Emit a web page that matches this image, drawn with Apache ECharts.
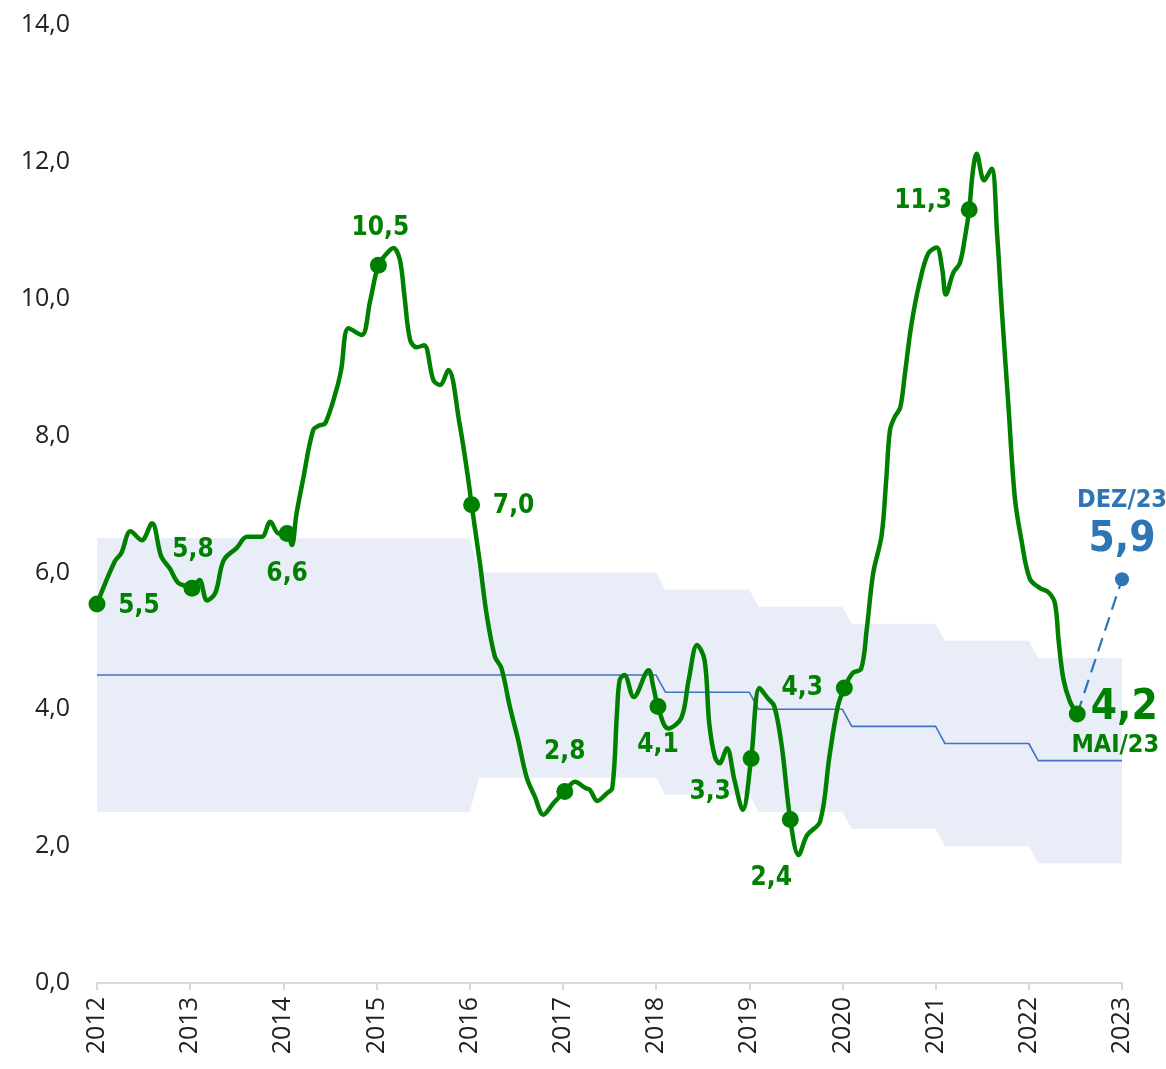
<!DOCTYPE html>
<html>
<head>
<meta charset="utf-8">
<script src="https://cdn.jsdelivr.net/npm/echarts@6/dist/echarts.min.js"></script>
<style>
  html, body { margin: 0; padding: 0; background: #fff; }
  #chart { width: 1166px; height: 1069px; }
</style>
</head>
<body>
<div id="chart"></div>
<script>
// IPCA 12 meses (decimal year, %)
const ipcaX = [
  2012.00, 2012.19, 2012.26, 2012.36, 2012.48, 2012.59, 2012.69, 2012.78, 2012.87, 2012.96,
  2013.02, 2013.10, 2013.18, 2013.27, 2013.36, 2013.50, 2013.61, 2013.70, 2013.77, 2013.86, 2013.95,
  2014.04, 2014.09, 2014.14, 2014.21, 2014.32, 2014.39, 2014.45, 2014.57, 2014.62, 2014.70, 2014.84, 2014.93,
  2015.02, 2015.11, 2015.18, 2015.25, 2015.30, 2015.36, 2015.43, 2015.51, 2015.61, 2015.68, 2015.77, 2015.89, 2015.98,
  2016.02, 2016.11, 2016.18, 2016.27, 2016.34, 2016.43, 2016.52, 2016.61, 2016.70, 2016.79, 2016.90,
  2017.02, 2017.13, 2017.24, 2017.29, 2017.37, 2017.47, 2017.53, 2017.58, 2017.61, 2017.66, 2017.76, 2017.92, 2017.97,
  2018.02, 2018.13, 2018.27, 2018.35, 2018.44, 2018.52, 2018.57, 2018.63, 2018.68, 2018.76, 2018.84, 2018.93,
  2019.02, 2019.11, 2019.20, 2019.27, 2019.35, 2019.44, 2019.53, 2019.62, 2019.76, 2019.86, 2019.95,
  2020.02, 2020.11, 2020.20, 2020.26, 2020.33, 2020.42, 2020.47, 2020.51, 2020.56, 2020.62, 2020.67, 2020.74, 2020.83, 2020.92,
  2021.01, 2021.07, 2021.11, 2021.19, 2021.26, 2021.32, 2021.36, 2021.40, 2021.44, 2021.52, 2021.60, 2021.66, 2021.71, 2021.78, 2021.85, 2021.92,
  2022.01, 2022.12, 2022.21, 2022.28, 2022.32, 2022.37, 2022.44, 2022.52
];
const ipcaY = [
  5.54, 6.16, 6.28, 6.60, 6.47, 6.72, 6.23, 6.06, 5.85, 5.80,
  5.77, 5.89, 5.59, 5.70, 6.18, 6.36, 6.52, 6.52, 6.52, 6.74, 6.57,
  6.57, 6.40, 6.85, 7.35, 8.08, 8.15, 8.18, 8.67, 8.96, 9.57, 9.47, 9.96,
  10.49, 10.66, 10.74, 10.57, 10.03, 9.40, 9.29, 9.32, 8.81, 8.74, 8.96, 8.18, 7.40,
  6.99, 6.13, 5.40, 4.77, 4.60, 4.04, 3.55, 3.01, 2.72, 2.46, 2.63,
  2.80, 2.94, 2.85, 2.82, 2.66, 2.77, 2.85, 3.94, 4.43, 4.50, 4.18, 4.57, 4.33,
  4.04, 3.72, 3.87, 4.43, 4.94, 4.72, 3.80, 3.31, 3.21, 3.43, 2.97, 2.53,
  3.28, 4.31, 4.16, 4.04, 3.45, 2.39, 1.87, 2.16, 2.36, 3.31, 4.04,
  4.31, 4.53, 4.59, 5.16, 5.99, 6.54, 7.36, 8.08, 8.27, 8.41, 8.90, 9.62, 10.25, 10.66,
  10.75, 10.44, 10.06, 10.38, 10.52, 10.94, 11.30, 11.87, 12.12, 11.73, 11.90, 10.94, 9.84, 8.46, 7.09, 6.48,
  5.91, 5.77, 5.71, 5.55, 5.00, 4.45, 4.12, 3.93
];

// highlighted points
const markX = [2012.00, 2013.02, 2014.04, 2015.02, 2016.02, 2017.02, 2018.02, 2019.02, 2019.44, 2020.02, 2021.36, 2022.52];
const markY = [5.54, 5.77, 6.57, 10.49, 6.99, 2.80, 4.04, 3.28, 2.39, 4.31, 11.30, 3.93];
const markText = ['5,5', '5,8', '6,6', '10,5', '7,0', '2,8', '4,1', '3,3', '2,4', '4,3', '11,3', '4,2'];

// meta de inflação: banda e centro
const bandX = [2012, 2016, 2016.1, 2018, 2018.1, 2019, 2019.1, 2020, 2020.1, 2021, 2021.1, 2022, 2022.1, 2023];
const bandLow = [2.5, 2.5, 3.0, 3.0, 2.75, 2.75, 2.5, 2.5, 2.25, 2.25, 2.0, 2.0, 1.75, 1.75];
const bandHigh = [6.5, 6.5, 6.0, 6.0, 5.75, 5.75, 5.5, 5.5, 5.25, 5.25, 5.0, 5.0, 4.75, 4.75];
const bandMid = [4.5, 4.5, 4.5, 4.5, 4.25, 4.25, 4.0, 4.0, 3.75, 3.75, 3.5, 3.5, 3.25, 3.25];

// projeção
const projX = [2022.52, 2023.0];
const projY = [3.93, 5.9];
const projText = ['DEZ/23', '5,9'];
const lastText = 'MAI/23';

const years = [2012, 2023];

const GREEN = '#008000';
const BLUE = '#2E75B6';
const BAND = '#E9EDF7';
const LABEL_FONT = '"DejaVu Sans Condensed", "Liberation Sans Narrow", sans-serif';
const AXIS_FONT = '"Open Sans", Lato, sans-serif';

// label offsets around each highlighted point
const labelOffsets = [
  [42, 2], [1, -38], [0, 41], [2, -37], [42, 2], [0, -39],
  [0, 39], [-41, 34], [-19, 59], [-42, 0], [-46, -9], [42, 0]
];

const chart = echarts.init(document.getElementById('chart'));

const markData = markX.map((x, i) => {
  const item = { value: [x, markY[i]], label: { offset: labelOffsets[i] } };
  if (i === markX.length - 1) {
    item.label = {
      offset: [38, 8],
      formatter: '{a|' + markText[i] + '}\n{b|' + lastText + '}',
      rich: {
        a: { fontFamily: LABEL_FONT, fontWeight: 'bold', fontSize: 42, color: GREEN, lineHeight: 46, align: 'center', padding: [0, 0, 0, 18] },
        b: { fontFamily: LABEL_FONT, fontWeight: 'bold', fontSize: 25, color: GREEN, lineHeight: 28, align: 'center' }
      }
    };
  } else {
    item.label.formatter = markText[i];
  }
  return item;
});

const option = {
  animation: false,
  grid: { left: 97, right: 44, top: 25, bottom: 86, containLabel: false },
  xAxis: {
    type: 'value',
    min: years[0],
    max: years[1],
    interval: 1,
    z: 10,
    splitLine: { show: false },
    axisLine: { lineStyle: { color: '#d9d9d9', width: 2 } },
    axisTick: { show: true, length: 7, lineStyle: { color: '#d9d9d9', width: 2 } },
    axisLabel: {
      rotate: 90,
      margin: 14,
      fontFamily: AXIS_FONT,
      fontSize: 25,
      color: '#222',
      formatter: v => String(v)
    }
  },
  yAxis: {
    type: 'value',
    min: 0,
    max: 14,
    interval: 2,
    splitLine: { show: false },
    axisLine: { show: false },
    axisTick: { show: false },
    axisLabel: {
      margin: 27,
      fontFamily: AXIS_FONT,
      fontSize: 25,
      color: '#222',
      formatter: v => v.toFixed(1).replace('.', ',')
    }
  },
  series: [
    {
      // upper edge of the target band, filled down to the axis
      type: 'line',
      data: bandX.map((x, i) => [x, bandHigh[i]]),
      symbol: 'none',
      lineStyle: { width: 0, color: BAND },
      areaStyle: { color: BAND, opacity: 1, origin: 'start' },
      silent: true,
      z: 1
    },
    {
      // lower edge: white fill below it cuts the band out
      type: 'line',
      data: bandX.map((x, i) => [x, bandLow[i]]),
      symbol: 'none',
      lineStyle: { width: 0, color: '#fff' },
      areaStyle: { color: '#fff', opacity: 1, origin: 'start' },
      silent: true,
      z: 1
    },
    {
      type: 'line',
      data: bandX.map((x, i) => [x, bandMid[i]]),
      symbol: 'none',
      lineStyle: { color: '#4472C4', width: 1.6 },
      silent: true,
      z: 2
    },
    {
      type: 'line',
      data: ipcaX.map((x, i) => [x, ipcaY[i]]),
      symbol: 'none',
      smooth: 0.35,
      lineStyle: { color: GREEN, width: 4.5 },
      z: 3
    },
    {
      type: 'line',
      data: projX.map((x, i) => [x, projY[i]]),
      symbol: 'none',
      lineStyle: { color: BLUE, width: 2.2, type: [14, 8] },
      z: 3
    },
    {
      type: 'scatter',
      data: markData,
      symbol: 'circle',
      symbolSize: 17,
      itemStyle: { color: GREEN, opacity: 1 },
      label: {
        show: true,
        position: 'inside',
        fontFamily: LABEL_FONT,
        fontWeight: 'bold',
        fontSize: 26,
        color: GREEN
      },
      z: 5
    },
    {
      type: 'scatter',
      data: [[projX[1], projY[1]]],
      symbol: 'circle',
      symbolSize: 14,
      itemStyle: { color: BLUE, opacity: 1 },
      label: {
        show: true,
        position: 'top',
        distance: 10,
        formatter: '{a|' + projText[0] + '}\n{b|' + projText[1] + '}',
        rich: {
          a: { fontFamily: LABEL_FONT, fontWeight: 'bold', fontSize: 25, color: BLUE, lineHeight: 36, align: 'center' },
          b: { fontFamily: LABEL_FONT, fontWeight: 'bold', fontSize: 42, color: BLUE, lineHeight: 44, align: 'center' }
        }
      },
      z: 5
    }
  ]
};

chart.setOption(option);
</script>
</body>
</html>
